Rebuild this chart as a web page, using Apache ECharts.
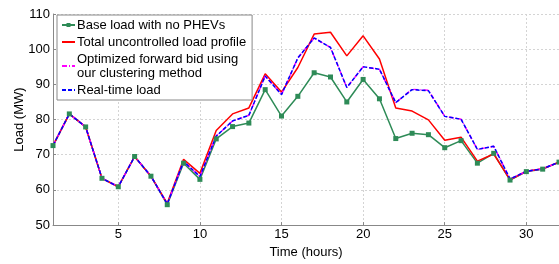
<!DOCTYPE html>
<html>
<head>
<meta charset="utf-8">
<script src="https://cdn.jsdelivr.net/npm/echarts@6/dist/echarts.min.js"></script>
<style>
  html, body { margin: 0; padding: 0; background: #fff; }
  #main { width: 559px; height: 264px; }
</style>
</head>
<body>
<div id="main"></div>
<script>
// hours of the day (1..32)
const hours = [1, 2, 3, 4, 5, 6, 7, 8, 9, 10, 11, 12, 13, 14, 15, 16,
  17, 18, 19, 20, 21, 22, 23, 24, 25, 26, 27, 28, 29, 30, 31, 32];
const xTicks = [5, 10, 15, 20, 25, 30];

// Load (MW)
const baseLoad = [72.6, 81.6, 77.9, 63.3, 60.9, 69.5, 63.9, 55.8, 67.6, 63.0, 74.5, 78.0, 79.0, 88.5, 81.0, 86.6,
  93.3, 92.1, 85.0, 91.4, 85.9, 74.6, 76.1, 75.7, 72.0, 74.0, 67.6, 70.4, 62.8, 65.2, 65.9, 67.9];
const uncontrolled = [72.6, 81.6, 77.9, 63.3, 60.9, 69.5, 63.9, 56.2, 68.7, 64.7, 76.9, 81.6, 83.3, 93.0, 87.8, 94.8,
  104.3, 104.8, 98.1, 103.8, 97.2, 83.3, 82.4, 79.9, 74.1, 75.0, 68.2, 70.2, 62.9, 65.3, 66.0, 67.9];
const optimized = [72.6, 81.6, 77.9, 63.3, 60.9, 69.5, 63.9, 56.0, 68.1, 63.8, 75.3, 79.6, 81.2, 92.4, 87.1, 97.5,
  103.2, 100.5, 89.1, 95.0, 94.3, 84.8, 88.6, 88.3, 80.9, 80.1, 71.5, 72.4, 63.1, 65.3, 66.0, 67.9];
const realTime = [72.6, 81.6, 77.9, 63.3, 60.9, 69.5, 63.9, 56.0, 68.1, 63.8, 75.3, 79.6, 81.2, 92.4, 87.1, 97.5,
  103.2, 100.5, 89.1, 95.0, 94.3, 84.8, 88.5, 88.2, 80.9, 80.1, 71.5, 72.4, 63.1, 65.3, 66.0, 67.9];

const names = ['Base load with no PHEVs', 'Total uncontrolled load profile',
  'Optimized forward bid using\nour clustering method', 'Real-time load'];

const pairs = arr => hours.map((h, i) => [h, arr[i]]);
const font = 'Liberation Sans, Arial, sans-serif';
// no marker in the legend for the plain lines
const noMark = { color: 'rgba(0,0,0,0)', borderColor: 'rgba(0,0,0,0)', borderWidth: 0 };

const chart = echarts.init(document.getElementById('main'), null, { renderer: 'canvas' });

chart.setOption({
  animation: false,
  textStyle: { fontFamily: font },
  grid: { left: 53, right: 0, top: 14, bottom: 29 },
  legend: {
    left: 57, top: 15,
    orient: 'vertical',
    data: [
      { name: names[0] },
      { name: names[1], itemStyle: noMark },
      { name: names[2], itemStyle: noMark },
      { name: names[3], itemStyle: noMark }
    ],
    itemWidth: 13,
    itemHeight: 5,
    itemGap: 3,
    padding: [3, 6, 3, 4],
    borderColor: '#888',
    borderWidth: 1,
    backgroundColor: '#fff',
    textStyle: { fontFamily: font, fontSize: 13, color: '#000', padding: [0, 0, 0, -3], lineHeight: 14 }
  },
  xAxis: {
    type: 'value',
    min: 1, max: 32,
    name: 'Time (hours)',
    nameLocation: 'middle',
    nameGap: 15,
    nameTextStyle: { fontSize: 13, color: '#000' },
    axisLine: { lineStyle: { color: '#888' } },
    axisTick: { inside: true, length: 3, customValues: xTicks, lineStyle: { color: '#888' } },
    axisLabel: { fontSize: 13, color: '#000', margin: 3, customValues: xTicks },
    splitLine: { show: true, lineStyle: { color: '#d4d4d4', type: [2, 2] } }
  },
  yAxis: {
    type: 'value',
    min: 50, max: 110, interval: 10,
    name: 'Load (MW)',
    nameLocation: 'middle',
    nameGap: 27,
    nameMoveOverlap: false,
    nameTextStyle: { fontSize: 13, color: '#000' },
    axisLine: { show: true, lineStyle: { color: '#888' } },
    axisTick: { show: true, inside: true, length: 3, lineStyle: { color: '#888' } },
    axisLabel: { fontSize: 13, color: '#000', margin: 3 },
    splitLine: { show: true, lineStyle: { color: '#d4d4d4', type: [2, 2] } }
  },
  series: [
    {
      name: names[0], type: 'line', data: pairs(baseLoad),
      symbol: 'rect', symbolSize: 5, showAllSymbol: true,
      itemStyle: { color: '#2e8b57' },
      lineStyle: { color: '#2e8b57', width: 1.5 }
    },
    {
      name: names[1], type: 'line', data: pairs(uncontrolled),
      symbol: 'none',
      itemStyle: { color: '#ff0000' },
      lineStyle: { color: '#ff0000', width: 1.5 }
    },
    {
      name: names[2], type: 'line', data: pairs(optimized),
      symbol: 'none',
      itemStyle: { color: '#ff00ff' },
      lineStyle: { color: '#ff00ff', width: 1.5, type: [5, 2, 1, 2] }
    },
    {
      name: names[3], type: 'line', data: pairs(realTime),
      symbol: 'none',
      itemStyle: { color: '#0000ff' },
      lineStyle: { color: '#0000ff', width: 1.5, type: [4, 2] }
    }
  ]
});
</script>
</body>
</html>
